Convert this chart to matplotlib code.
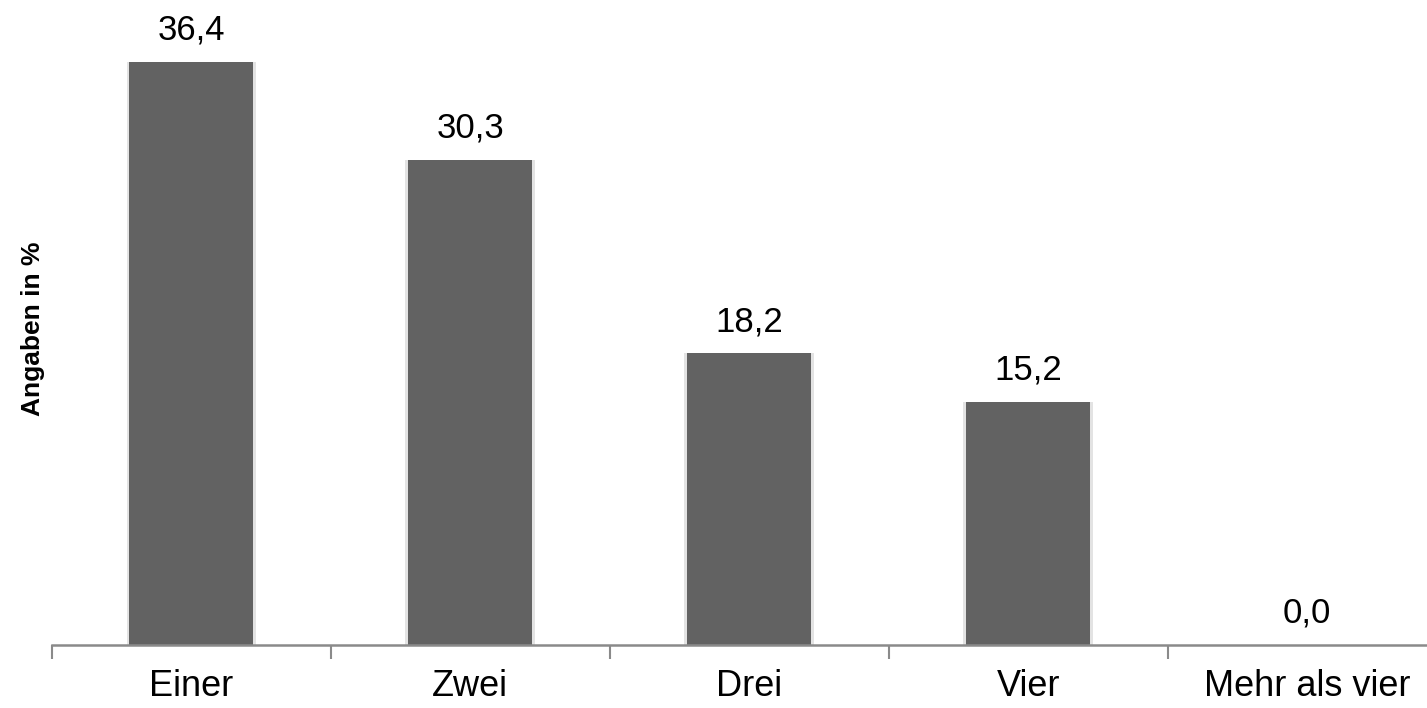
import numpy as np
import matplotlib
matplotlib.use("Agg")
import matplotlib.pyplot as plt

categories = ["Einer", "Zwei", "Drei", "Vier", "Mehr als vier"]
values = [36.4, 30.3, 18.2, 15.2, 0.0]

plt.rcParams['font.family'] = ['Liberation Sans', 'DejaVu Sans']

fig = plt.figure(figsize=(14.27, 7.08), dpi=100)
ax = fig.add_axes([0.0364, 0.089, 0.9636, 0.905])

x = np.arange(len(categories))
# light shadow behind the bars
ax.bar(x, values, width=0.465, color='#e3e3e3', zorder=1)
ax.bar(x, values, width=0.445, color='#626262', zorder=2)

for xi, v in zip(x, values):
    ax.text(xi, v + 1.4, ('%.1f' % v).replace('.', ','), ha='center', va='baseline',
            fontsize=25, color='black')

ax.set_xlim(-0.5, 4.43)
ax.set_ylim(0, 40)
ax.set_xticks(x)
ax.set_xticklabels(categories, fontsize=26)
ax.tick_params(axis='x', which='major', length=0, pad=17)
ax.set_xticks(np.arange(-0.5, 4.0, 1), minor=True)
ax.tick_params(axis='x', which='minor', length=10, width=1.5, color='#8a8a8a')
ax.set_yticks([])

for s in ['top', 'right', 'left']:
    ax.spines[s].set_visible(False)
ax.spines['bottom'].set_color('#8a8a8a')
ax.spines['bottom'].set_linewidth(1.8)

fig.text(0.023, 0.535, 'Angaben in %', rotation=90, ha='center', va='center',
         fontsize=19, fontweight='bold')

fig.savefig('out.png', dpi=100)
